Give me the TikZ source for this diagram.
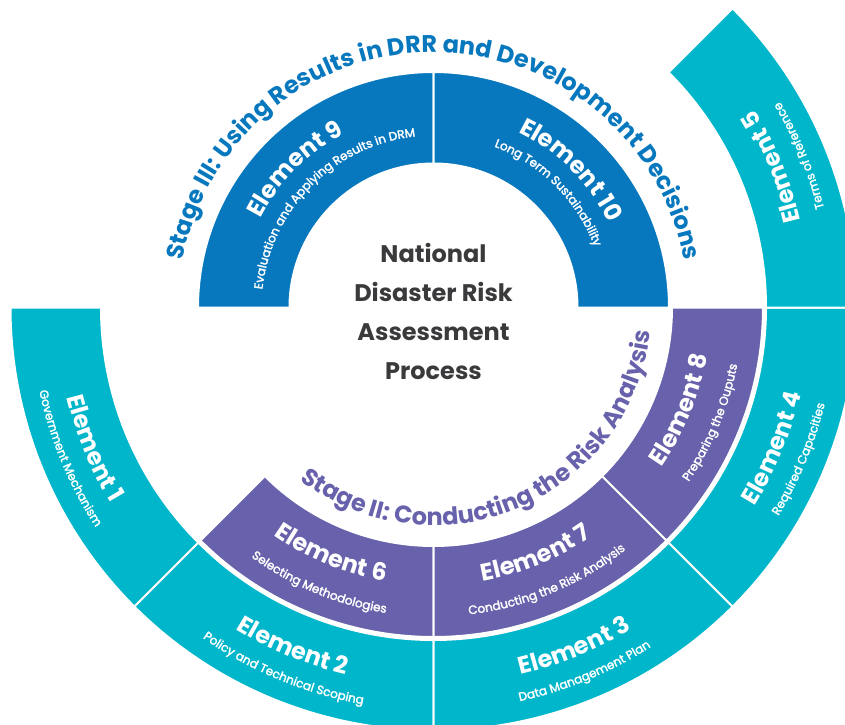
\documentclass[tikz,border=0pt]{standalone}
\usepackage{fontspec}
\setmainfont{Poppins}
\newfontfamily\subfam{Poppins}[FakeBold=2.2]
\usetikzlibrary{decorations.text}
\definecolor{cblue}{HTML}{0878BE}
\definecolor{cpurple}{HTML}{6762AB}
\definecolor{cteal}{HTML}{00B6CB}
\definecolor{cgray}{HTML}{3A3A3C}
\newcommand\ttlfont{\fontsize{24}{24}\selectfont\bfseries}
\newcommand\elsubfont{\subfam\fontsize{12}{12}\selectfont}
\newcommand\stgfont{\fontsize{24}{24}\selectfont\bfseries}
% color, r1, r2, a1, a2
\newcommand\ringsector[5]{%
  \fill[#1, draw=white, line width=2pt] (#4:#2pt) arc[start angle=#4, end angle=#5, radius=#2pt]
    -- (#5:#3pt) arc[start angle=#5, end angle=#4, radius=#3pt] -- cycle;}
% color, mid angle, radius, half span, format, text
\newcommand\ccwtext[6]{%
  \path[decorate, decoration={text along path, text align=center, text color=#1, text={|#5|#6}}]
    (#2-#4:#3pt) arc[start angle=#2-#4, end angle=#2+#4, radius=#3pt];}
\newcommand\cwtext[6]{%
  \path[decorate, decoration={text along path, text align=center, text color=#1, text={|#5|#6}}]
    (#2+#4:#3pt) arc[start angle=#2+#4, end angle=#2-#4, radius=#3pt];}
\begin{document}
\begin{tikzpicture}
\useasboundingbox (-433.5pt,-416.5pt) rectangle (411.5pt,307.5pt);
\clip (-433.5pt,-416.5pt) rectangle (411.5pt,307.5pt);
% Stage III ring (blue)
\ringsector{cblue}{144}{235.5}{90}{180}
\ringsector{cblue}{144}{235.5}{0}{90}
% Stage II ring (purple)
\ringsector{cpurple}{238.5}{329.5}{225}{270}
\ringsector{cpurple}{238.5}{329.5}{270}{315}
\ringsector{cpurple}{238.5}{329.5}{315}{360}
% Stage I ring (teal)
\ringsector{cteal}{332.5}{423}{180}{225}
\ringsector{cteal}{332.5}{423}{225}{270}
\ringsector{cteal}{332.5}{423}{270}{315}
\ringsector{cteal}{332.5}{423}{315}{360}
\ringsector{cteal}{332.5}{423}{0}{45}
% blue labels
\cwtext{white}{135}{194.5}{70}{\ttlfont}{Element 9}
\cwtext{white}{135}{172}{70}{\elsubfont}{Evaluation and Applying Results in DRM}
\cwtext{white}{45}{194.5}{70}{\ttlfont}{Element 10}
\cwtext{white}{45}{172}{70}{\elsubfont}{Long Term Sustainability}
% purple labels
\ccwtext{white}{247.5}{278}{60}{\ttlfont}{Element 6}
\ccwtext{white}{247.5}{309}{60}{\elsubfont}{Selecting Methodologies}
\ccwtext{white}{292.5}{278}{60}{\ttlfont}{Element 7}
\ccwtext{white}{292.5}{309}{60}{\elsubfont}{Conducting the Risk Analysis}
\ccwtext{white}{337.5}{278}{60}{\ttlfont}{Element 8}
\ccwtext{white}{337.5}{309}{60}{\elsubfont}{Preparing the Ouputs}
% teal labels
\ccwtext{white}{202.5}{377.5}{50}{\ttlfont}{Element 1}
\ccwtext{white}{202.5}{403}{50}{\elsubfont}{Government Mechanism}
\ccwtext{white}{247.5}{377.5}{50}{\ttlfont}{Element 2}
\ccwtext{white}{247.5}{403}{50}{\elsubfont}{Policy and Technical Scoping}
\ccwtext{white}{292.5}{377.5}{50}{\ttlfont}{Element 3}
\ccwtext{white}{292.5}{403}{50}{\elsubfont}{Data Management Plan}
\ccwtext{white}{337.5}{377.5}{50}{\ttlfont}{Element 4}
\ccwtext{white}{337.5}{403}{50}{\elsubfont}{Required Capacities}
\ccwtext{white}{22.5}{377.5}{50}{\ttlfont}{Element 5}
\ccwtext{white}{22.5}{403}{50}{\elsubfont}{Terms of Reference}
% stage titles
\cwtext{cblue}{90}{255}{100}{\stgfont}{Stage III: Using Results in DRR and Development Decisions}
\ccwtext{cpurple}{293}{218}{90}{\stgfont}{Stage II: Conducting the Risk Analysis}
% centre
\node[font={\fontsize{24}{39}\selectfont\bfseries}, text=cgray, align=center] (centre) at (0pt,-4pt)
  {National\\Disaster Risk\\Assessment\\Process};
\end{tikzpicture}
\end{document}
